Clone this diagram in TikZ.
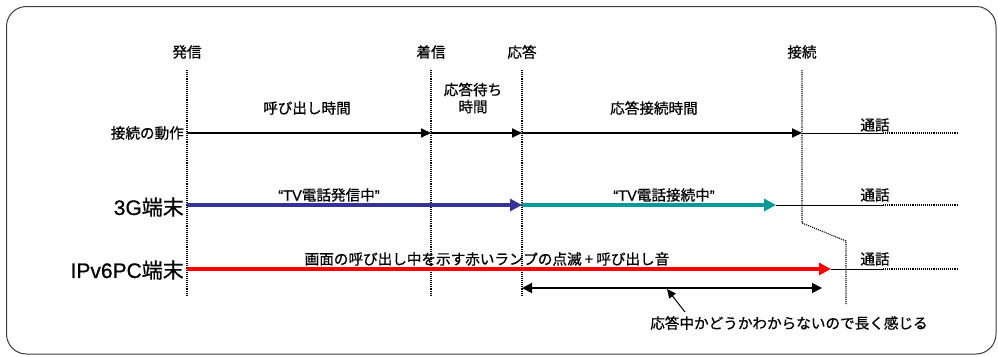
\documentclass[tikz,border=0pt]{standalone}
\usepackage{fontspec}
\setmainfont{Noto Sans CJK JP}[RawFeature={embolden=0.8}]
\newfontfamily\lat{Liberation Sans}[RawFeature={embolden=0.8}]
\usetikzlibrary{arrows.meta}
\definecolor{callblue}{RGB}{51,51,153}
\definecolor{connteal}{RGB}{0,153,153}
\definecolor{lampred}{RGB}{255,0,0}
\definecolor{framegray}{RGB}{60,60,60}
\begin{document}
\begin{tikzpicture}[x=1pt,y=-1pt,
  evline/.style={densely dotted,line width=1.1pt},
  tailline/.style={densely dotted,line width=1.1pt},
  thinline/.style={line width=0.8pt},
  thickarr/.style={line width=2pt,-{Triangle[length=10pt,width=9pt]}},
  bararr/.style={line width=4pt,-{Triangle[length=12pt,width=12pt]}},
  dblarr/.style={line width=1.6pt,{Triangle[length=10pt,width=10pt]}-{Triangle[length=10pt,width=10pt]}},
  notearr/.style={line width=1pt,-{Triangle[length=9pt,width=8pt]}},
  lbl/.style={font=\fontsize{14.6}{17}\selectfont,inner sep=0pt},
  biglbl/.style={font=\fontsize{21}{23}\selectfont,inner sep=0pt}]
\useasboundingbox (0,0) rectangle (998,356);
% frame
\draw[framegray,line width=1pt,rounded corners=20pt] (6.5,6.5) rectangle (996,354);

% event lines
\coordinate (hT) at (187,70);  \coordinate (hB) at (187,295);
\coordinate (cT) at (431,70);  \coordinate (cB) at (431,295);
\coordinate (oT) at (522,70);  \coordinate (oB) at (522,295);
\coordinate (sT) at (802,70);  \coordinate (sM) at (802,223);
\coordinate (sN) at (846,241); \coordinate (sB) at (846,305);
\draw[evline] (hT) -- (hB);
\draw[evline] (cT) -- (cB);
\draw[evline] (oT) -- (oB);
\draw[evline] (sT) -- (sM) -- (sN) -- (sB);

\node[lbl] (lh) at (187,52) {発信};
\node[lbl] (lc) at (431,52) {着信};
\node[lbl] (lo) at (522,52) {応答};
\node[lbl] (ls) at (802,52) {接続};

% row 1
\coordinate (r1a) at (187,133); \coordinate (r1b) at (431,133);
\coordinate (r1c) at (522,133); \coordinate (r1d) at (802,133);
\coordinate (r1e) at (883,133); \coordinate (r1f) at (957,133);
\draw[thickarr] (r1a) -- (r1b);
\draw[thickarr] (r1b) -- (r1c);
\draw[thickarr] (r1c) -- (r1d);
\draw[thinline] (r1d) -- (r1e);
\draw[tailline] (r1e) -- (r1f);
\node[lbl,anchor=east] (n1) at (184,133) {接続の動作};
\node[lbl] (t1) at (307,108) {呼び出し時間};
\node[lbl,align=center] (t2) at (473,98) {応答待ち\\時間};
\node[lbl] (t3) at (654,108) {応答接続時間};
\node[lbl] (t4) at (875,125) {通話};

% row 2
\coordinate (r2a) at (187,205); \coordinate (r2b) at (522,205);
\coordinate (r2c) at (776,205); \coordinate (r2e) at (883,205);
\coordinate (r2f) at (957,205);
\draw[bararr,callblue] (r2a) -- (r2b);
\draw[bararr,connteal] (r2b) -- (r2c);
\draw[thinline] (r2c) -- (r2e);
\draw[tailline] (r2e) -- (r2f);
\node[biglbl,anchor=east] (n2) at (184,207) {{\lat 3G}端末};
\node[lbl] (t5) at (329,195) {{\lat “TV}電話発信中{\lat ”}};
\node[lbl] (t6) at (664,195) {{\lat “TV}電話接続中{\lat ”}};
\node[lbl] (t7) at (875,195) {通話};

% row 3
\coordinate (r3a) at (187,269); \coordinate (r3b) at (831,269);
\coordinate (r3e) at (883,269); \coordinate (r3f) at (957,269);
\draw[bararr,lampred] (r3a) -- (r3b);
\draw[thinline] (r3b) -- (r3e);
\draw[tailline] (r3e) -- (r3f);
\node[biglbl,anchor=east] (n3) at (184,270) {{\lat IPv6PC}端末};
\node[lbl] (t8) at (487,259) {画面の呼び出し中を示す赤いランプの点滅\ +\ 呼び出し音};
\node[lbl] (t9) at (875,259) {通話};

% double arrow and note
\coordinate (da) at (522,288); \coordinate (db) at (822,288);
\draw[dblarr] (da) -- (db);
\coordinate (pt) at (667,289);
\node[lbl] (note) at (789,323) {応答中かどうかわからないので長く感じる};
\draw[notearr] (685,312) -- (pt);
\end{tikzpicture}
\end{document}
